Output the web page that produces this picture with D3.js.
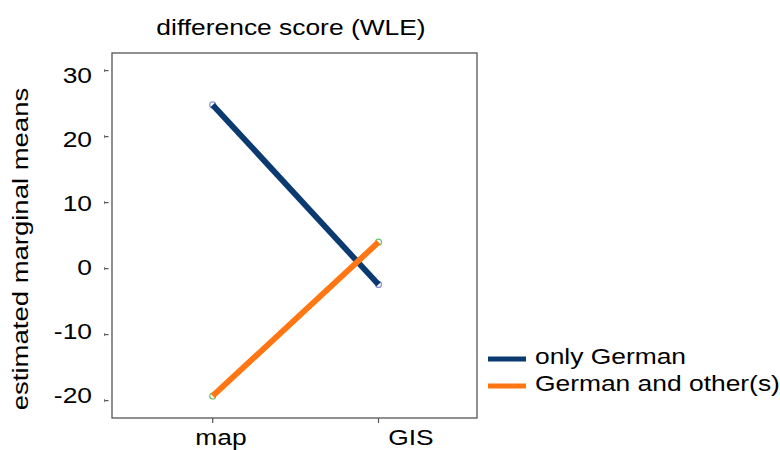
<!DOCTYPE html>
<html>
<head>
<meta charset="utf-8">
<script src="https://cdn.jsdelivr.net/npm/d3@7"></script>
<style>
  html, body { margin: 0; padding: 0; background: #fff; }
  svg text { font-family: "Liberation Sans", Arial, Helvetica, sans-serif; fill: #000; font-size: 22px; }
</style>
</head>
<body>
<svg id="chart" width="780" height="450"></svg>
<script>
// Estimated marginal means of the WLE difference score by task condition
const conditions = ["map", "GIS"];
const groups = ["only German", "German and other(s)"];
const onlyGerman = [24.8, -2.4];
const germanAndOther = [-19.3, 4.0];
const yTicks = [-20, -10, 0, 10, 20, 30];
const lineColors = ["#0b3a70", "#ff7612"];
const pointColors = ["#8c90d8", "#6cc46c"];

const series = [
  { name: groups[0], values: onlyGerman, color: lineColors[0], point: pointColors[0] },
  { name: groups[1], values: germanAndOther, color: lineColors[1], point: pointColors[1] }
];

const svg = d3.select("#chart");
const box = { left: 112, top: 53, right: 477, bottom: 418 };
const stretch = 1.2; // wide sans face

// Text helper: horizontally widened glyphs, rotation optional
function label(parent, x, y, str, anchor, sx, rot) {
  return parent.append("text")
    .attr("transform", `translate(${x},${y})` + (rot ? ` rotate(${rot})` : "") + ` scale(${sx},1)`)
    .attr("text-anchor", anchor)
    .text(str);
}

const x = d3.scalePoint().domain(conditions).range([212.7, 378.5]);
const xLab = d3.scalePoint().domain(conditions).range([221, 411]);

const y = d3.scaleLinear().domain([0, 30]).range([268.6, 70.6]);
const yLab = d3.scaleLinear().domain([-20, 30]).range([395, 74.7]);

// Plot frame
svg.append("rect")
  .attr("x", box.left).attr("y", box.top)
  .attr("width", box.right - box.left).attr("height", box.bottom - box.top)
  .attr("fill", "none").attr("stroke", "#555").attr("stroke-width", 1.3);

// Y axis ticks and labels
const yAxis = svg.append("g");
yAxis.selectAll("line").data(yTicks).join("line")
  .attr("x1", 104).attr("x2", 108.5)
  .attr("y1", d => y(d)).attr("y2", d => y(d))
  .attr("stroke", "#555").attr("stroke-width", 1.2);
yAxis.selectAll("line.cap").data(yTicks).join("line")
  .attr("class", "cap")
  .attr("x1", 104.5).attr("x2", 104.5)
  .attr("y1", d => y(d) - 1.5).attr("y2", d => y(d) + 1.5)
  .attr("stroke", "#777").attr("stroke-width", 1);
yTicks.forEach(t => label(yAxis, 92, yLab(t) + 8, t, "end", stretch));

// X axis ticks and labels
const xAxis = svg.append("g");
xAxis.selectAll("line").data(conditions).join("line")
  .attr("x1", d => x(d)).attr("x2", d => x(d))
  .attr("y1", box.bottom).attr("y2", box.bottom + 5)
  .attr("stroke", "#555").attr("stroke-width", 1.2);
conditions.forEach(c => label(xAxis, xLab(c), 445, c, "middle", stretch));

// Group lines with hollow markers at each condition
const line = d3.line()
  .x((d, i) => x(conditions[i]))
  .y(d => y(d));

series.forEach(s => {
  svg.selectAll(null).data(s.values).join("circle")
    .attr("cx", (d, i) => x(conditions[i]))
    .attr("cy", d => y(d))
    .attr("r", 3)
    .attr("fill", "none")
    .attr("stroke", s.point)
    .attr("stroke-width", 1.2);
  svg.append("path")
    .datum(s.values)
    .attr("d", line)
    .attr("fill", "none")
    .attr("stroke", s.color)
    .attr("stroke-width", 5.8)
    .attr("stroke-linecap", "butt");
});

// Title
label(svg, 291, 35, "difference score (WLE)", "middle", stretch);

// Y axis title
label(svg, 28, 249, "estimated marginal means", "middle", 1.25, -90);

// Legend
const legend = svg.append("g");
series.forEach((s, i) => {
  const ly = 359 + i * 27;
  legend.append("line")
    .attr("x1", 488).attr("x2", 526)
    .attr("y1", ly).attr("y2", ly)
    .attr("stroke", s.color).attr("stroke-width", 5);
  label(legend, 535, ly + 5, s.name, "start", stretch);
});
</script>
</body>
</html>
